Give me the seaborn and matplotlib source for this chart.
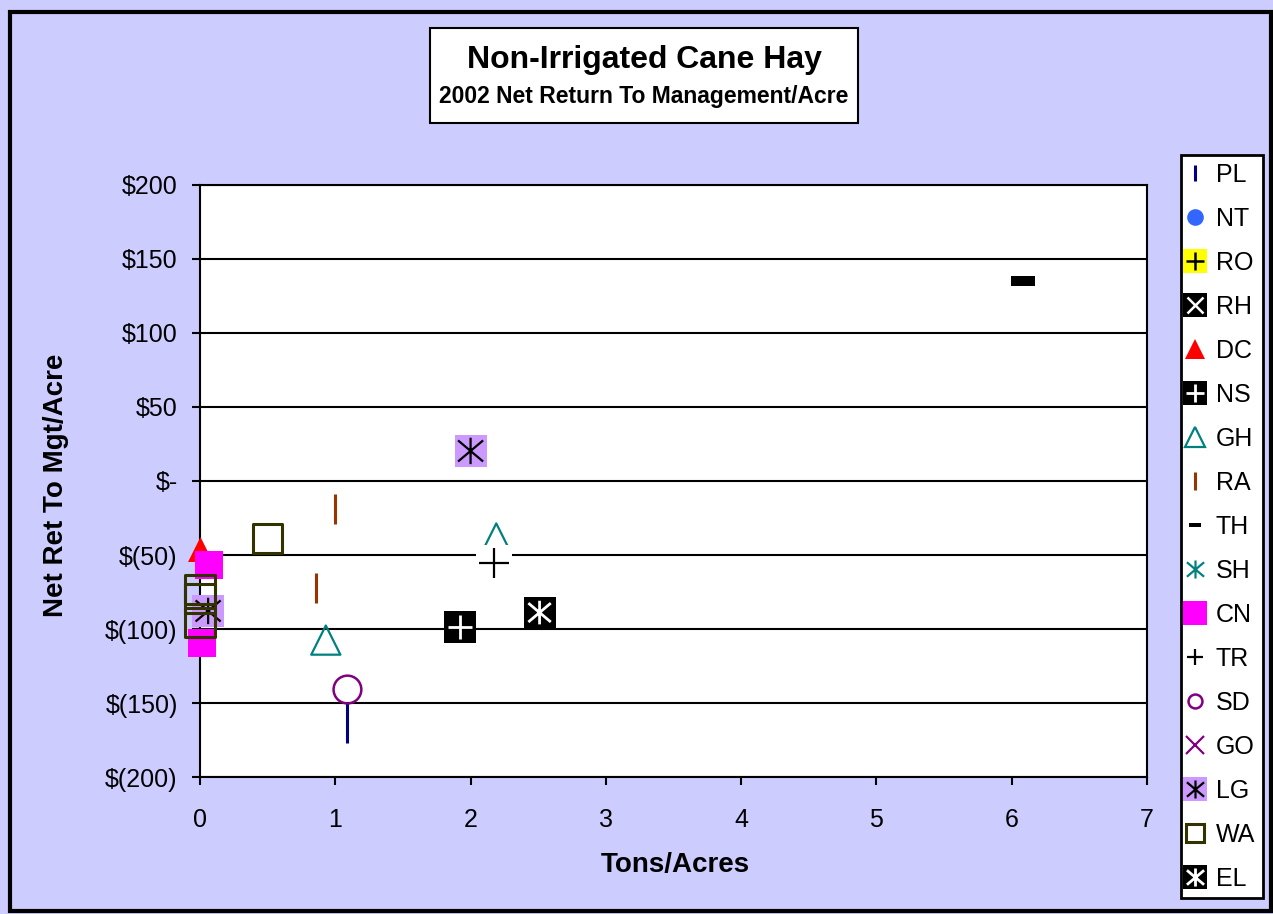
import matplotlib
matplotlib.use("Agg")
import matplotlib.pyplot as plt
import seaborn as sns
import pandas as pd
from matplotlib.path import Path
from matplotlib.lines import Line2D
from matplotlib.patches import Rectangle
from matplotlib.legend_handler import HandlerTuple

# series in legend order
series = ["PL", "NT", "RO", "RH", "DC", "NS", "GH", "RA", "TH", "SH",
          "CN", "TR", "SD", "GO", "LG", "WA", "EL"]

# every visible point (NT, RO, RH, SH, GO have none on the chart)
point_series = ["PL", "DC", "NS", "GH", "GH", "RA", "RA", "RA", "TH", "CN",
                "CN", "TR", "SD", "LG", "LG", "WA", "WA", "WA", "WA", "EL"]
tons = [1.09, 0.0, 1.92, 2.19, 0.93, 1.0, 0.86, 0.0, 6.08, 0.07,
        0.015, 2.17, 1.09, 2.0, 0.06, 0.5, 0.0, 0.0, 0.0, 2.51]
net_return = [-163.5, -46, -98.6, -38.5, -107.5, -18.6, -72.6, -87, 135, -56.8,
              -109.5, -55.4, -140.9, 20.3, -87.8, -38.9, -73.3, -79.4, -95.6, -88.9]

x_ticks = [0, 1, 2, 3, 4, 5, 6, 7]
y_ticks = [-200, -150, -100, -50, 0, 50, 100, 150, 200]

# Excel style markers
AST = Path([(0, -1), (0, 1), (-0.95, -0.8), (0.95, 0.8), (-0.95, 0.8), (0.95, -0.8)],
           [Path.MOVETO, Path.LINETO] * 3)
DASH = Path([(-1, -0.4), (1, -0.4), (1, 0.4), (-1, 0.4), (-1, -0.4)], closed=True)
LINE_MARKERS = ("|", "+", "x")

# layers: (marker, plot size pt, legend size pt, face, edge, linewidth)
styles = {
    "PL": [("|", 29, 12, None, "#000080", 2.2)],
    "NT": [("o", 14, 12, "#3366FF", "#3366FF", 0)],
    "RO": [("s", 22, 17, "#FFFF00", "#FFFF00", 0), ("+", 17, 13, None, "black", 1.8)],
    "RH": [("s", 22, 17, "black", "black", 0), ("x", 16, 12, None, "white", 1.8)],
    "DC": [("^", 18, 14, "#FF0000", "#FF0000", 0)],
    "NS": [("s", 23, 17, "black", "black", 0), ("+", 17, 13, None, "white", 2)],
    "GH": [("^", 21, 14, "none", "#008080", 1.6)],
    "RA": [("|", 21, 13, None, "#993300", 2.2)],
    "TH": [(DASH, 17, 8, "black", "black", 0)],
    "SH": [(AST, 16, 13, "none", "#008080", 1.6)],
    "CN": [("s", 19.5, 17, "#FF00FF", "#FF00FF", 0)],
    "TR": [("s", 26, 17, "white", "white", 0), ("+", 21, 12, None, "black", 1.6)],
    "SD": [("o", 20, 10, "none", "#800080", 1.8)],
    "GO": [("x", 16, 13, None, "#800080", 1.6)],
    "LG": [("s", 23, 17, "#CC99FF", "#CC99FF", 0), (AST, 19, 13, "none", "black", 1.6)],
    "WA": [("s", 21, 13, "none", "#333300", 2.2)],
    "EL": [("s", 23, 17, "black", "black", 0), (AST, 17, 13, "none", "white", 2)],
}


def money(v):
    if v == 0:
        return "$-"
    if v < 0:
        return f"$({-v})"
    return f"${v}"


def legend_handle(layers):
    parts = []
    for marker, _, size, face, edge, lw in layers:
        if isinstance(marker, str) and marker in LINE_MARKERS:
            parts.append(Line2D([], [], ls="none", marker=marker, markersize=size,
                                color=edge, markeredgewidth=lw))
        else:
            parts.append(Line2D([], [], ls="none", marker=marker, markersize=size,
                                markerfacecolor=face, markeredgecolor=edge,
                                markeredgewidth=lw))
    return tuple(parts)


sns.set_style("ticks")
plt.rcParams["font.family"] = ["Liberation Sans", "DejaVu Sans"]
plt.rcParams["text.color"] = "black"
plt.rcParams["axes.labelcolor"] = "black"
plt.rcParams["xtick.color"] = "black"
plt.rcParams["ytick.color"] = "black"

df = pd.DataFrame({"site": point_series, "tons": tons, "net": net_return})

fig = plt.figure(figsize=(12.73, 9.14), dpi=100, facecolor="#CCCCFF")
ax = fig.add_axes([200 / 1273, 1 - 777 / 914, 947 / 1273, 592 / 914])
ax.set_facecolor("white")

z = 10
for name in series:
    d = df[df["site"] == name]
    for marker, size, _, face, edge, lw in styles[name]:
        z += 1
        if d.empty:
            continue
        if isinstance(marker, str) and marker in LINE_MARKERS:
            kws = dict(color=edge)
        else:
            kws = dict(color=edge, facecolor=face, edgecolor=edge)
        sns.scatterplot(data=d, x="tons", y="net", marker=marker, s=size ** 2,
                        linewidth=lw, zorder=z, clip_on=False, legend=False,
                        ax=ax, **kws)

ax.set_xlim(0, 7)
ax.set_ylim(-200, 200)
ax.set_xticks(x_ticks)
ax.set_xticklabels([str(t) for t in x_ticks])
ax.set_yticks(y_ticks)
ax.set_yticklabels([money(t) for t in y_ticks])
ax.set_axisbelow(True)
ax.yaxis.grid(True, color="black", linewidth=1.5)
ax.xaxis.grid(False)
for sp in ax.spines.values():
    sp.set_visible(True)
    sp.set_color("black")
    sp.set_linewidth(1.5)
ax.tick_params(axis="both", direction="out", length=6, width=1.5,
               color="black", labelsize=18, labelcolor="black")
ax.tick_params(axis="y", pad=10)
ax.tick_params(axis="x", pad=16)
ax.set_xlabel("")
ax.set_ylabel("")

fig.text(675 / 1273, 1 - 865 / 914, "Tons/Acres", ha="center", va="center",
         fontsize=20, fontweight="bold", color="black")
fig.text(56 / 1273, 1 - 485 / 914, "Net Ret To Mgt/Acre", ha="center", va="center",
         rotation=90, fontsize=20, fontweight="bold", color="black")

# title box
fig.patches.append(Rectangle((430 / 1273, 1 - 123 / 914), 428 / 1273, 95 / 914,
                             transform=fig.transFigure, facecolor="white",
                             edgecolor="black", linewidth=1.5))
fig.text(644 / 1273, 1 - 60 / 914, "Non-Irrigated Cane Hay", ha="center", va="center",
         fontsize=23, fontweight="bold", color="black")
fig.text(644 / 1273, 1 - 96 / 914, "2002 Net Return To Management/Acre",
         ha="center", va="center", fontsize=16.5, fontweight="bold", color="black")

# outer frame
fig.patches.append(Rectangle((10 / 1273, 3 / 914), 1261 / 1273, 899 / 914,
                             transform=fig.transFigure, fill=False,
                             edgecolor="black", linewidth=3))

handles = [legend_handle(styles[name]) for name in series]
leg = fig.legend(handles, series, loc="upper left",
                 bbox_to_anchor=(1181 / 1273, 1 - 155 / 914),
                 borderaxespad=0, borderpad=0.3, handlelength=0.5,
                 handletextpad=0.6, labelspacing=0.8, fontsize=18,
                 frameon=True, fancybox=False, framealpha=1,
                 handler_map={tuple: HandlerTuple(ndivide=1)})
leg.get_frame().set_edgecolor("black")
leg.get_frame().set_linewidth(2)
leg.get_frame().set_facecolor("white")
for t in leg.get_texts():
    t.set_color("black")

fig.savefig("out.png", dpi=100, facecolor=fig.get_facecolor())
